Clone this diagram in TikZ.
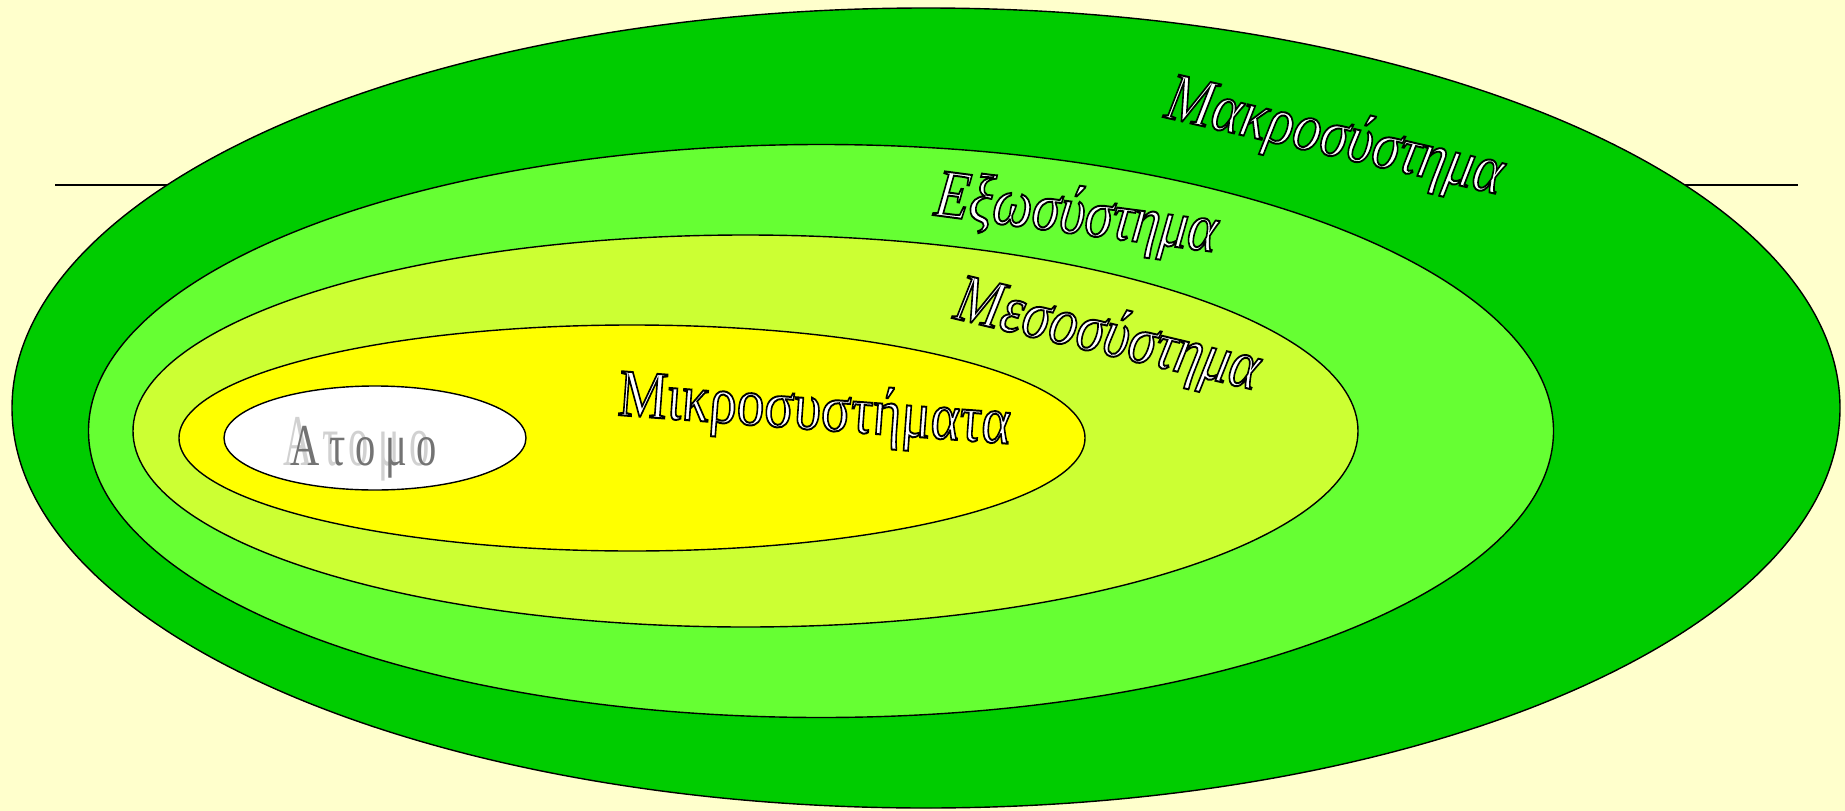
\documentclass[tikz,border=0pt]{standalone}
\usepackage{fontspec}
\setmainfont{Liberation Serif}
\definecolor{bgc}{HTML}{FFFFCC}
\definecolor{gA}{HTML}{00CC00}
\definecolor{gB}{HTML}{66FF33}
\definecolor{gC}{HTML}{CCFF33}
\definecolor{gD}{HTML}{FFFF00}
\newcommand\outlinetext[1]{\special{pdf:literal direct 0 G 2 Tr 1.6 w}#1\special{pdf:literal direct 0 Tr}}
\newcommand\tallbox[1]{\scalebox{1}[1.22]{\outlinetext{#1}}}
\tikzset{
  ring/.style={draw=black, line width=1.4pt},
  lbl/.style={anchor=base west, inner sep=0pt, text=white, font=\fontsize{56}{60}\selectfont\itshape},
  lblup/.style={anchor=base west, inner sep=0pt, text=white, font=\fontsize{55}{60}\selectfont},
  atomstyle/.style={anchor=base west, inner sep=0pt, font=\fontsize{54}{56}\selectfont},
}
\newcommand\atomletters{Α\hspace{13pt}τ\hspace{13pt}ο\hspace{13pt}μ\hspace{13pt}ο}
\begin{document}
\begin{tikzpicture}[x=1pt,y=-1pt]
\useasboundingbox (0,0) rectangle (1845,811);
\fill[bgc] (0,0) rectangle (1845,811);
\coordinate (l1) at (55,185);
\coordinate (l2) at (1798,185);
\draw[line width=2pt] (l1) -- (l2);
\filldraw[ring, fill=gA] (926,408) ellipse [x radius=914, y radius=400];
\filldraw[ring, fill=gB] (821,431) ellipse [x radius=732.5, y radius=286.5];
\filldraw[ring, fill=gC] (745.5,431) ellipse [x radius=612.5, y radius=196];
\filldraw[ring, fill=gD] (632,438) ellipse [x radius=453, y radius=113];
\filldraw[ring, fill=white] (375,438) ellipse [x radius=151, y radius=52];
\node[lbl, rotate=-13] (makro) at (1163,117) {\tallbox{Μακροσύστημα}};
\node[lbl, rotate=-7.5] (exo) at (933,215) {\tallbox{Εξωσύστημα}};
\node[lbl, rotate=-13.4] (meso) at (952,318) {\tallbox{Μεσοσύστημα}};
\node[lblup, rotate=-4.2] (mikro) at (617,415) {\tallbox{Μικροσυστήματα}};
\node[atomstyle, text=black!18] (atomos) at (283,465) {\scalebox{0.75}[1.35]{\atomletters}};
\node[atomstyle, text=black!55] (atomo) at (290,465) {\scalebox{0.75}[1.1]{\atomletters}};
\end{tikzpicture}
\end{document}
